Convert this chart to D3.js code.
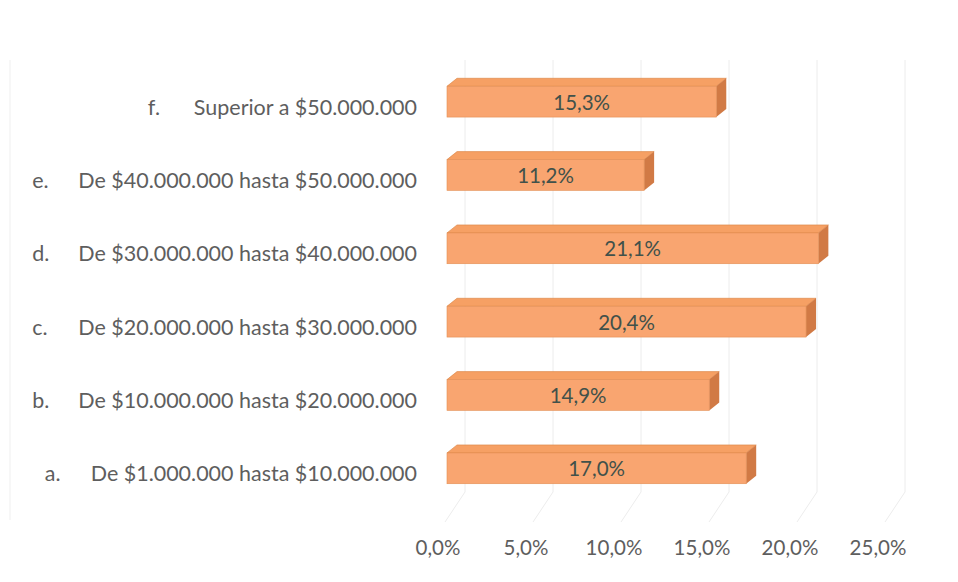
<!doctype html>
<html lang="es">
<head>
<meta charset="utf-8" />
<title>Distribución por rango</title>
<script src="https://d3js.org/d3.v7.min.js"></script>
<style>
  html, body { margin: 0; padding: 0; background: #fff; }
  svg text { font-family: Lato, "Open Sans", sans-serif; }
</style>
</head>
<body>
<div id="grafico"></div>
<script>
// datos
var letras = ["a.", "b.", "c.", "d.", "e.", "f."];
var rangos = [
  "De $1.000.000 hasta $10.000.000",
  "De $10.000.000 hasta $20.000.000",
  "De $20.000.000 hasta $30.000.000",
  "De $30.000.000 hasta $40.000.000",
  "De $40.000.000 hasta $50.000.000",
  "Superior a $50.000.000"
];
var valores = [17.0, 14.9, 20.4, 21.1, 11.2, 15.3];
var ticks = [0, 5, 10, 15, 20, 25];

var W = 958, H = 582;
var dx = 10, dy = 8;  // profundidad 3D de las barras

var svg = d3.select("#grafico").append("svg").attr("width", W).attr("height", H);

var x = d3.scaleLinear().domain([0, 25]).range([447, 887]);
var y = d3.scaleBand().domain(d3.range(valores.length).reverse())
  .range([65, 505]).paddingInner(0.58).paddingOuter(0.29);

var fmt = function(v) { return v.toFixed(1).replace(".", ",") + "%"; };

// lineas de cuadricula (pared del fondo y piso)
var grid = svg.append("g").attr("stroke", "#ececec").attr("stroke-width", 1).attr("fill", "none");
ticks.forEach(function(t) {
  grid.append("line").attr("x1", x(t) + 18).attr("x2", x(t) + 18).attr("y1", 60).attr("y2", 492);
  grid.append("line").attr("x1", x(t) + 18).attr("x2", x(t) - 2).attr("y1", 492).attr("y2", 522);
});
svg.append("line").attr("x1", 10).attr("x2", 10).attr("y1", 60).attr("y2", 520)
  .attr("stroke", "#efefef");

// barras
var barras = svg.append("g").selectAll("g").data(valores).enter().append("g");
barras.each(function(v, i) {
  var g = d3.select(this);
  var x0 = x(0), x1 = x(v), y0 = y(i), h = y.bandwidth();
  // cara superior
  g.append("path")
    .attr("d", "M" + x0 + "," + y0 + " L" + (x0 + dx) + "," + (y0 - dy) + " L" + (x1 + dx) + "," + (y0 - dy) + " L" + x1 + "," + y0 + "Z")
    .attr("fill", "#f6a064").attr("stroke", "#d9823f").attr("stroke-width", 0.6);
  // cara lateral
  g.append("path")
    .attr("d", "M" + x1 + "," + y0 + " L" + (x1 + dx) + "," + (y0 - dy) + " L" + (x1 + dx) + "," + (y0 + h - dy) + " L" + x1 + "," + (y0 + h) + "Z")
    .attr("fill", "#d17a45");
  // cara frontal
  g.append("rect").attr("x", x0).attr("y", y0).attr("width", x1 - x0).attr("height", h)
    .attr("fill", "#f9a570").attr("stroke", "#e38f55").attr("stroke-width", 0.6);
  g.append("text").attr("x", (x0 + x1) / 2).attr("y", y0 + h / 2)
    .attr("text-anchor", "middle").attr("dominant-baseline", "central")
    .attr("font-size", 20.5).attr("fill", "#41514a").text(fmt(v));
});

// etiquetas de categorias (tamano ajustado al ancho del original)
var cat = svg.append("g");
var prueba = cat.append("text").attr("font-size", 20).text(rangos[4]);
var tam = 20 * 339 / prueba.node().getComputedTextLength();
prueba.remove();
rangos.forEach(function(r, i) {
  var cy = y(i) + y.bandwidth() / 2 + 5;
  var t = cat.append("text").attr("x", 417).attr("y", cy)
    .attr("text-anchor", "end").attr("dominant-baseline", "central")
    .attr("font-size", tam).attr("fill", "#5e5e5e").text(r);
  var largo = t.node().getComputedTextLength();
  cat.append("text").attr("x", 417 - largo - 46).attr("y", cy)
    .attr("dominant-baseline", "central")
    .attr("font-size", tam).attr("fill", "#5e5e5e").text(letras[i]);
});

// eje x
svg.append("g").selectAll("text").data(ticks).enter().append("text")
  .attr("x", function(t) { return x(t) - 9; }).attr("y", 547)
  .attr("text-anchor", "middle").attr("dominant-baseline", "central")
  .attr("font-size", 20.5).attr("fill", "#5e5e5e").text(fmt);
</script>
</body>
</html>
